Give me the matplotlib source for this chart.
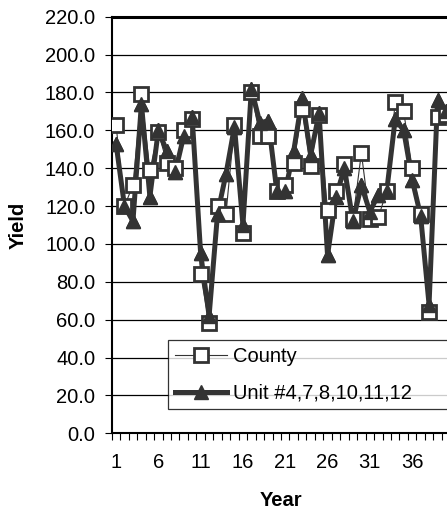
import matplotlib
matplotlib.use("Agg")
import matplotlib.pyplot as plt
from matplotlib.ticker import FixedLocator, FuncFormatter

plt.rcParams['font.family'] = ['Liberation Sans', 'DejaVu Sans']

years = list(range(1, 41))
county = [163, 120, 131, 179, 139, 159, 143, 140, 160, 166,
          84, 58, 120, 116, 163, 106, 180, 157, 157, 128,
          131, 143, 171, 141, 168, 118, 128, 142, 113, 148,
          113, 114, 128, 175, 170, 140, 116, 64, 167, 168]
unit = [153, 120, 112, 174, 125, 160, 149, 138, 157, 167,
        95, 62, 116, 137, 162, 110, 182, 164, 165, 128,
        128, 149, 177, 147, 169, 94, 125, 140, 112, 131,
        117, 126, 128, 166, 160, 134, 115, 68, 176, 170]
xtick_labels = [1, 6, 11, 16, 21, 26, 31, 36]
yticks = list(range(0, 221, 20))

FS = 14.5
W, H = 447, 512
fig = plt.figure(figsize=(W / 100, H / 100), dpi=100)
x0, xw = 111.8, 338.4
ytop, ybot = 16.7, 433.3
ax = fig.add_axes([x0 / W, (H - ybot) / H, xw / W, (ybot - ytop) / H])

col = '#333333'
ax.plot(years, unit, color=col, lw=3.6, marker='^', ms=10,
        mfc=col, mec=col, zorder=2, label='Unit #4,7,8,10,11,12')
ax.plot(years, county, color=col, lw=0.8, marker='s', ms=9.5,
        mfc='white', mec=col, mew=2, zorder=3, label='County')
ax.plot(years, unit, ls='none', marker='^', ms=10, mfc=col, mec=col, zorder=4)

ax.set_xlim(0.5, len(years) + 0.5)
ax.set_ylim(0, 220)
ax.set_yticks(yticks)
ax.yaxis.set_major_formatter(FuncFormatter(lambda v, p: f"{v:.1f}"))
ax.grid(axis='y', color='black', lw=0.9, zorder=0)
ax.set_axisbelow(True)

ax.xaxis.set_major_locator(FixedLocator(xtick_labels))
ax.set_xticklabels([str(v) for v in xtick_labels])
ax.xaxis.set_minor_locator(FixedLocator([i + 0.5 for i in range(0, len(years) + 1)]))
ax.tick_params(axis='x', which='major', length=0, pad=14, labelsize=FS)
ax.tick_params(axis='x', which='minor', length=5, width=0.8, direction='out')
ax.tick_params(axis='y', which='major', length=5, width=0.8, direction='out', pad=7, labelsize=FS)

for s in ['left', 'bottom']:
    ax.spines[s].set_linewidth(1.5)
ax.spines['top'].set_linewidth(2.2)
ax.spines['right'].set_visible(False)

fig.text(18 / W, 1 - 225 / H, 'Yield', rotation=90, ha='center', va='center',
         fontsize=FS, fontweight='bold')
fig.text(281 / W, 1 - 501 / H, 'Year', ha='center', va='center',
         fontsize=FS, fontweight='bold')

h, l = ax.get_legend_handles_labels()
leg = fig.legend([h[1], h[0]], [l[1], l[0]], loc='upper left',
                 bbox_to_anchor=(168 / W, 1 - 410 / H, (480 - 168) / W, 70 / H),
                 mode='expand', fontsize=FS, frameon=True, fancybox=False,
                 edgecolor='black', handlelength=2.6, handletextpad=0.3,
                 labelspacing=0.9, borderpad=0.33, borderaxespad=0)
leg.get_frame().set_linewidth(0.9)

fig.savefig('out.png', dpi=100)
